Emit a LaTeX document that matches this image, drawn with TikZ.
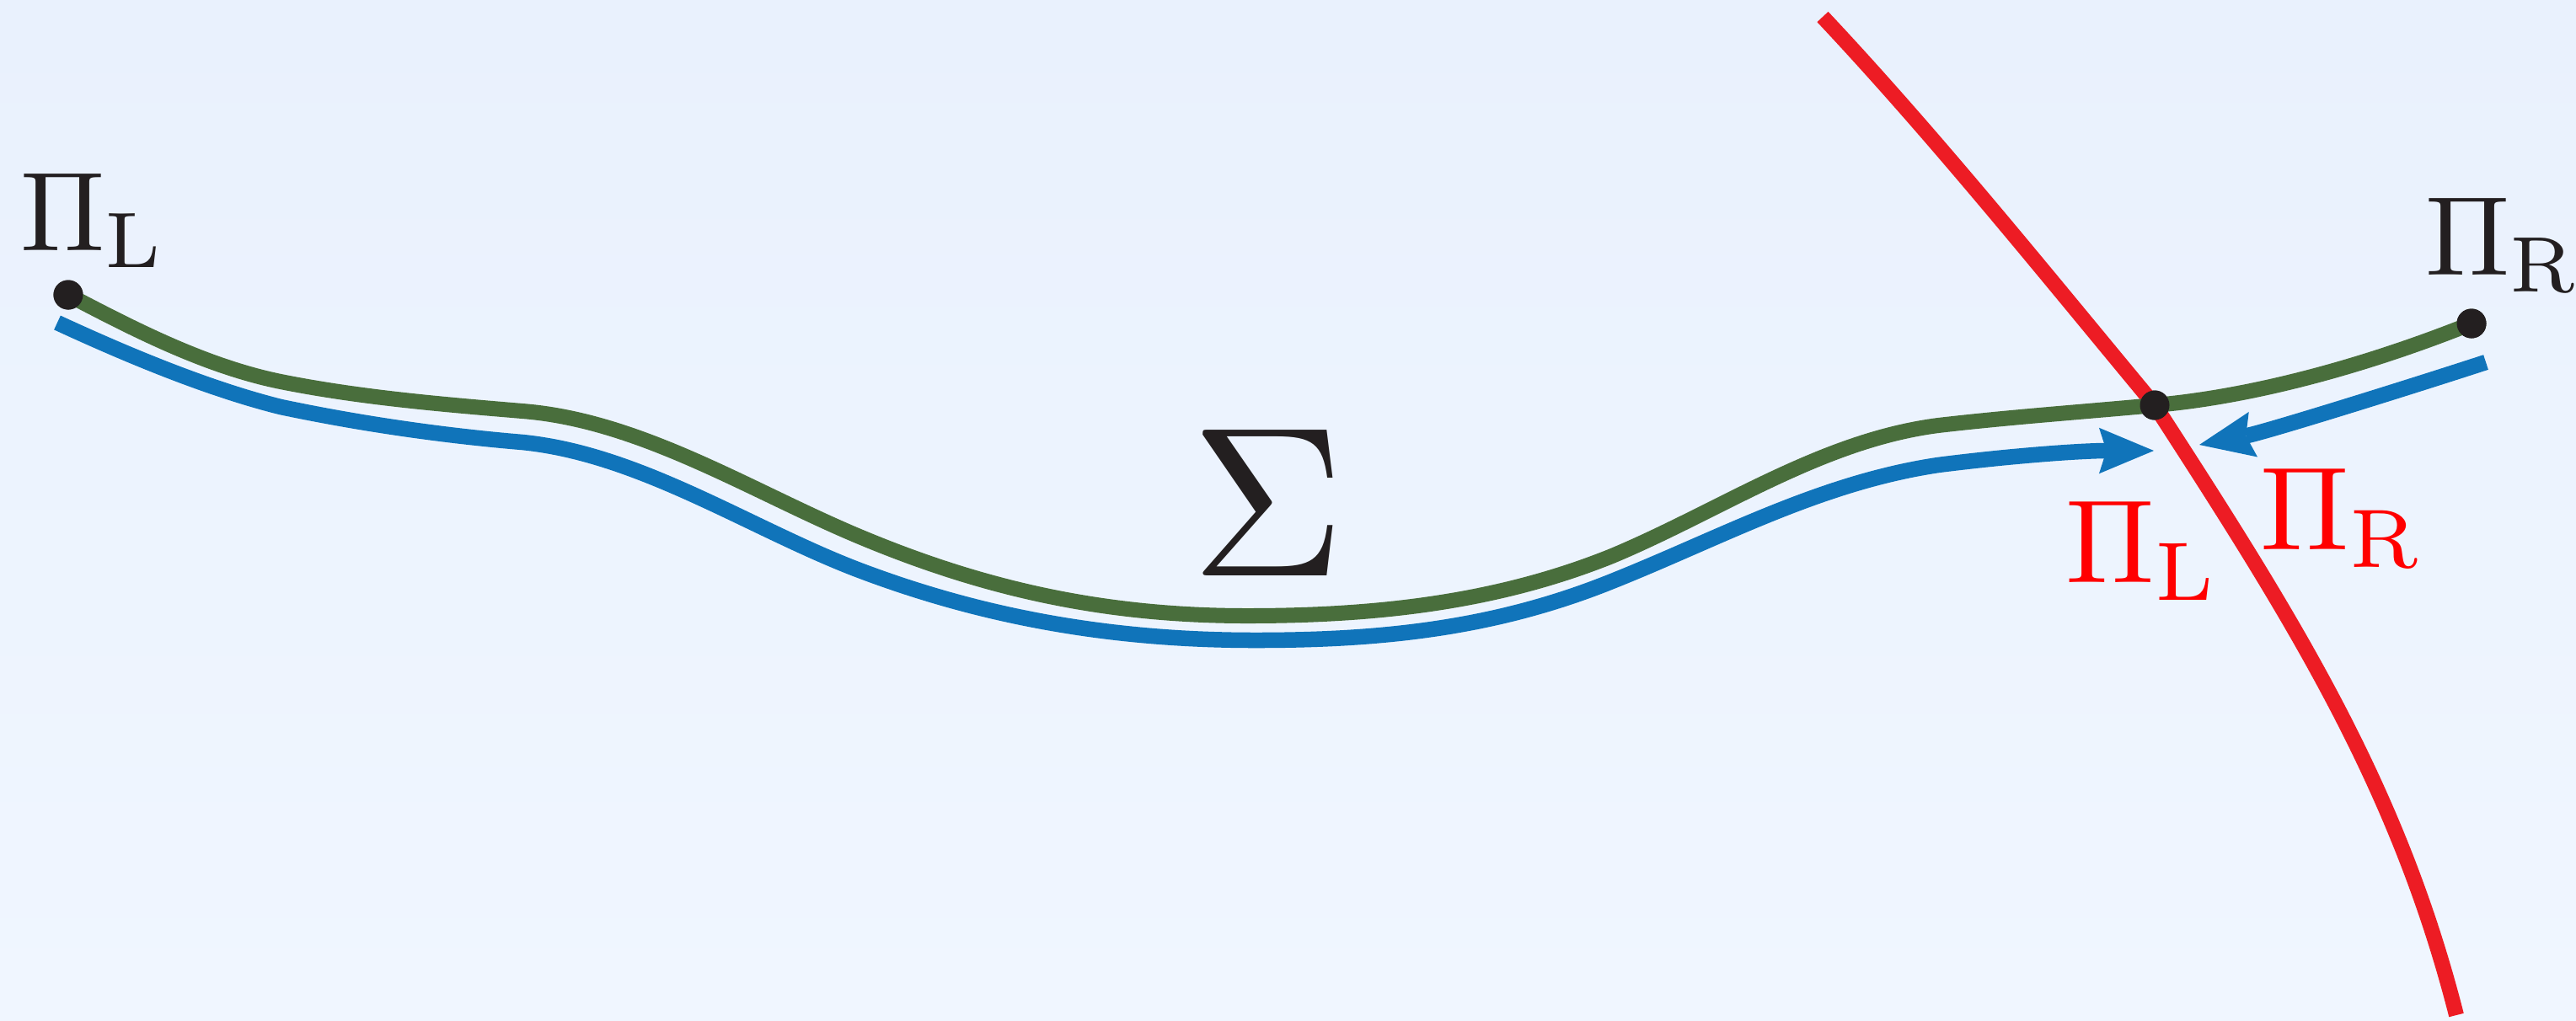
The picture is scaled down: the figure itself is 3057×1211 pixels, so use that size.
\documentclass[tikz,border=0pt]{standalone}
\usepackage{graphicx}
\usepackage{tikz}
\usetikzlibrary{arrows.meta}
\usepackage{xcolor}
\definecolor{pathgreen}{RGB}{73,110,60}
\definecolor{pathblue}{RGB}{16,116,186}
\definecolor{cutred}{RGB}{237,28,36}
\definecolor{labelred}{RGB}{255,0,0}
\definecolor{inkblack}{RGB}{35,31,32}
\definecolor{bgtop}{RGB}{233,241,253}
\definecolor{bgbottom}{RGB}{240,246,255}
\newcommand{\bigmath}[2]{\scalebox{#1}{$#2$}}

\begin{document}
\begin{tikzpicture}[
  x=0.01cm, y=-0.01cm,
  green line/.style={draw=pathgreen, line width=0.18cm},
  blue line/.style={draw=pathblue, line width=0.185cm,
                    -{Stealth[length=18.5pt, width=15.5pt, inset=2.5pt, line width=0pt]}},
  red line/.style={draw=cutred, line width=0.18cm},
  dot/.style={circle, fill=inkblack, inner sep=0pt, minimum size=0.35cm},
  lab/.style={inner sep=0pt, anchor=base west, text=inkblack},
  redlab/.style={lab, text=labelred}
]

\useasboundingbox (0,0) rectangle (3057,1211);
\shade[top color=bgtop, bottom color=bgbottom] (0,0) rectangle (3057,1211);

\node[dot] (pL) at (81,350) {};
\node[dot] (pR) at (2933,384) {};
\node[dot] (cross) at (2557,481) {};

\coordinate (redTop) at (2163,20);
\coordinate (redBot) at (2915,1205);
\coordinate (blueL) at (68,383);
\coordinate (tipL) at (2556,535);
\coordinate (blueR) at (2950,430);
\coordinate (tipR) at (2610,528);

% the cut
\draw[red line] (redTop) .. controls (2300,166) and (2429,327) .. (cross.center)
                         .. controls (2720,733) and (2845,930) .. (redBot);

% the surface
\draw[green line] (pL.center) .. controls (161,392) and (245,435) .. (333,453)
  .. controls (428,472) and (525,480) .. (620,488)
  .. controls (760,499) and (891,583) .. (1020,637)
  .. controls (1168,699) and (1310,731) .. (1480,731)
  .. controls (1630,731) and (1774,716) .. (1913,660)
  .. controls (2042,606) and (2161,523) .. (2300,505)
  .. controls (2386,495) and (2471,489) .. (cross.center)
  .. controls (2682,470) and (2818,430) .. (pR.center);

% the two paths towards the cut
\draw[blue line] (blueL) .. controls (148,420) and (245,461) .. (333,483)
  .. controls (428,503) and (525,517) .. (620,525)
  .. controls (760,539) and (891,628) .. (1020,677)
  .. controls (1168,733) and (1320,760) .. (1490,760)
  .. controls (1640,760) and (1774,746) .. (1913,690)
  .. controls (2043,638) and (2160,573) .. (2300,552)
  .. controls (2386,541) and (2470,535) .. (tipL);
\draw[blue line] (blueR) .. controls (2855,461) and (2688,513) .. (tipR);

\node[dot] at (pL) {};
\node[dot] at (pR) {};
\node[dot] at (cross) {};

\node[lab] (labPiL) at (24,297) {\bigmath{3.8}{\Pi_{\mathrm{L}}}};
\node[lab] (labPiR) at (2878,326) {\bigmath{3.8}{\Pi_{\mathrm{R}}}};
\node[lab, anchor=base] (labSigma) at (1505,683) {\bigmath{7.2}{\Sigma}};
\node[redlab] (labCutL) at (2451,691) {\bigmath{4}{\Pi_{\mathrm{L}}}};
\node[redlab] (labCutR) at (2682,652) {\bigmath{4}{\Pi_{\mathrm{R}}}};
\end{tikzpicture}
\end{document}
